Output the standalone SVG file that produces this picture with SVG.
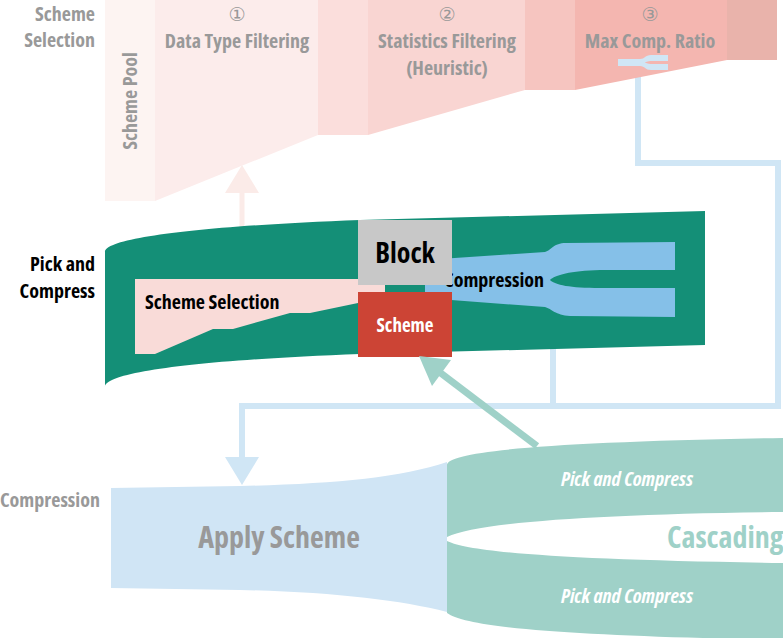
<svg xmlns="http://www.w3.org/2000/svg" width="783" height="638" viewBox="0 0 783 638">
<style>
text{font-family:"Open Sans","Liberation Sans",sans-serif;font-weight:bold;font-stretch:condensed}
.g{fill:#999999}
.k{fill:#000000}
.lbl{font-size:20px}
.num{font-size:19px;font-weight:normal;font-stretch:normal;font-family:"DejaVu Sans","Noto Sans",sans-serif}
.ln{fill:none;stroke:#d0e6f5;stroke-width:6}
</style>
<rect width="783" height="638" fill="#ffffff"/>
<g id="connectors-back">
<path class="ln" d="M638,75 V163 H778 V406 H242 V458"/>
<path class="ln" d="M553,340 V406"/>
<polygon points="225,457 259,457 242,485" fill="#d0e6f5"/>
<rect x="239.5" y="190" width="5" height="50" fill="#fbebe8"/>
<polygon points="242,165 225,193 259,193" fill="#fbebe8"/>
</g>
<g id="scheme-selection">
<rect id="scheme-pool" x="105" y="0" width="50" height="201" fill="#fdf4f2"/>
<polygon id="data-type-filtering" points="155,0 318,0 318,135 155,201" fill="#fceceb"/>
<rect x="318" y="0" width="50" height="135" fill="#fbdedc"/>
<polygon id="statistics-filtering" points="368,0 525,0 525,90 368,135" fill="#f9d5d2"/>
<rect x="525" y="0" width="50" height="90" fill="#f6c5c0"/>
<polygon id="max-comp-ratio" points="575,0 727,0 727,60 575,90" fill="#f4b6b0"/>
<rect x="727" y="0" width="50" height="60" fill="#e9b3ab"/>
<path d="M618,59 L640,59 C645,59 645,55 651,55 L668,55 L668,61 L652,61 C647,61 646,62.5 644,62.5 C646,62.5 647,64 652,64 L668,64 L668,70 L651,70 C645,70 645,66 640,66 L618,66 Z" fill="#d0e6f5"/>
<text class="g lbl" x="95" y="21" text-anchor="end">Scheme</text>
<text class="g lbl" x="95" y="47" text-anchor="end">Selection</text>
<text class="g lbl" transform="translate(137,101) rotate(-90)" text-anchor="middle">Scheme Pool</text>
<text class="g num" x="237" y="21" text-anchor="middle">①</text>
<text class="g lbl" x="237" y="48" text-anchor="middle">Data Type Filtering</text>
<text class="g num" x="447" y="21" text-anchor="middle">②</text>
<text class="g lbl" x="447" y="48" text-anchor="middle">Statistics Filtering</text>
<text class="g lbl" x="447" y="75" text-anchor="middle">(Heuristic)</text>
<text class="g num" x="650" y="21" text-anchor="middle">③</text>
<text class="g lbl" x="650" y="48" text-anchor="middle">Max Comp. Ratio</text>
</g>
<g id="pick-and-compress">
<path d="M105,252 C105,238 200,226 360,220 L705,211 L705,345 L360,354 C200,360 105,372 105,387 Z" fill="#148f77"/>
<path id="scheme-selection-inner" d="M135,279 L385,279 L385,300 L358,303 L310,313 L290,313 L233,329 L213,329 L155,354 L135,354 Z" fill="#f9dbd8"/>
<path id="compression-fork" d="M425,260 L545,252 C552,250 553,243 566,243 L675,242 L675,270 L600,270 C570,271 555,275 550,280 C555,285 570,288 600,288 L675,288 L675,317 L570,316 C555,315 552,309 545,307 L425,298 Z" fill="#85c0e8"/>
<text class="k lbl" x="444" y="287">Compression</text>
<text class="k lbl" x="145" y="309">Scheme Selection</text>
<text class="k lbl" x="95" y="271" text-anchor="end">Pick and</text>
<text class="k lbl" x="95" y="298" text-anchor="end">Compress</text>
</g>
<g id="block">
<rect x="358" y="220" width="94" height="65" fill="#c8c8c8"/>
<text class="k" x="405" y="263" font-size="28" text-anchor="middle">Block</text>
</g>
<g id="scheme">
<rect x="358" y="292" width="94" height="65" fill="#cc4435"/>
<text x="405" y="332" font-size="19" fill="#ffffff" text-anchor="middle">Scheme</text>
</g>
<g id="compression">
<path d="M111,488 L240,486 C330,484 400,478 447,462 L447,612 C400,600 330,592 240,590 L111,588 Z" fill="#d0e5f5"/>
<text class="g" x="279" y="548" font-size="30" text-anchor="middle">Apply Scheme</text>
<text class="g lbl" x="100" y="507" text-anchor="end">Compression</text>
</g>
<g id="cascading">
<path d="M447,465 C447,452 540,442 783,438 L783,512 C600,514 480,522 447,537 Z" fill="#9fd1c8"/>
<path d="M447,541 C470,552 560,560 783,563 L783,640 C600,636 470,630 447,613 Z" fill="#9fd1c8"/>
<text x="627" y="486" font-size="20" font-style="italic" fill="#ffffff" text-anchor="middle">Pick and Compress</text>
<text x="627" y="603" font-size="20" font-style="italic" fill="#ffffff" text-anchor="middle">Pick and Compress</text>
<text x="667" y="548" font-size="30" fill="#9fd1c8">Cascading</text>
</g>
<g id="connectors">
<line x1="537" y1="446" x2="438" y2="371" stroke="#9fd1c8" stroke-width="7"/>
<polygon points="419,356 451,360 432,386" fill="#9fd1c8"/>
</g>
</svg>
